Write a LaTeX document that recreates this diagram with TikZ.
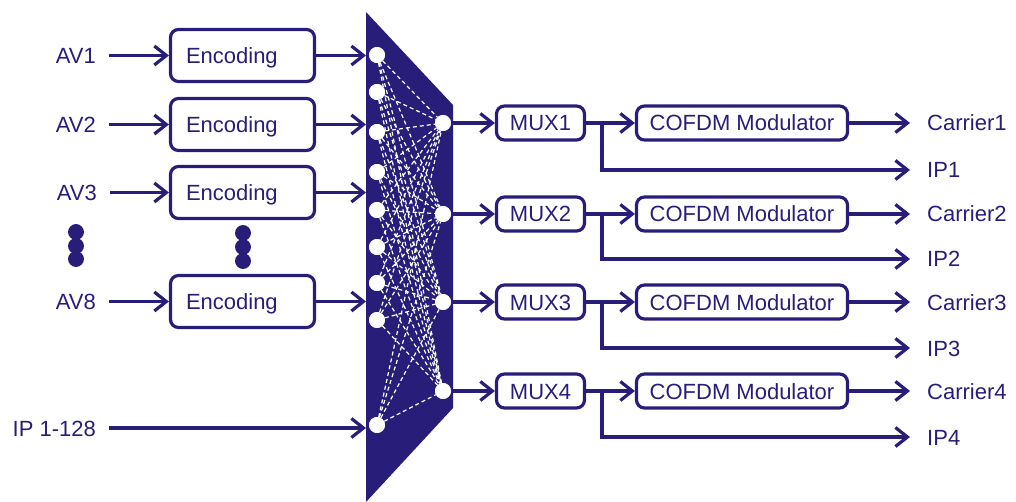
\documentclass[tikz,border=0pt]{standalone}
\usepackage{fontspec}
\setmainfont{Liberation Sans}
\usetikzlibrary{arrows.meta}
\definecolor{navy}{RGB}{40,30,122}
\begin{document}
\begin{tikzpicture}[x=1pt,y=-1pt,
  every node/.style={font=\fontsize{22}{26}\selectfont, text=navy, text height=16pt, text depth=0pt},
  lbl/.style={inner sep=0pt},
  box/.style={draw=navy, line width=3.2pt, rounded corners=8pt, fill=white},
  encbox/.style={box, minimum height=52pt, text width=113pt, inner xsep=15.5pt, align=left},
  muxbox/.style={box, minimum height=34pt, minimum width=88pt, inner sep=0pt},
  cofbox/.style={box, minimum height=34pt, minimum width=211pt, inner sep=0pt},
  arr/.style={draw=navy, line width=3.2pt, -{Straight Barb[length=12pt,width=19pt]}},
  dot/.style={circle, fill=white, inner sep=0pt, minimum size=11pt},
  vdot/.style={circle, fill=navy, inner sep=0pt, minimum size=9.5pt},
  wdash/.style={draw=white, line width=1.2pt, dash pattern=on 4pt off 3pt},
]
\useasboundingbox (0,0) rectangle (1016,502);

% switching matrix body
\coordinate (tl) at (366,12);
\coordinate (tr) at (453,105);
\coordinate (br) at (453,408);
\coordinate (bl) at (366,502);
\fill[navy] (tl) -- (tr) -- (br) -- (bl) -- cycle;

% matrix dots
\foreach \i/\y in {1/55,2/92,3/132,4/172,5/210,6/247,7/283,8/320,9/425}
  \node[dot] (L\i) at (377,\y) {};
\foreach \j/\y in {1/123,2/214,3/302,4/391}
  \node[dot] (R\j) at (443,\y) {};
\foreach \i in {1,...,9}
  \foreach \j in {1,...,4}
    \draw[wdash] (L\i) -- (R\j);
\foreach \i in {1,...,9} \node[dot] at (L\i) {};
\foreach \j in {1,...,4} \node[dot] at (R\j) {};

% inputs
\node[lbl, anchor=east] (av1) at (96,55.5) {AV1};
\node[lbl, anchor=east] (av2) at (96,124.5) {AV2};
\node[lbl, anchor=east] (av3) at (97,192.5) {AV3};
\node[lbl, anchor=east] (av8) at (96,301.5) {AV8};
\node[lbl, anchor=east] (ipin) at (96,428) {IP 1-128};

\node[encbox] (enc1) at (242.5,55.5) {Encoding};
\node[encbox] (enc2) at (242.5,124.5) {Encoding};
\node[encbox] (enc3) at (242.5,192.5) {Encoding};
\node[encbox] (enc8) at (242.5,301.5) {Encoding};

\foreach \n/\e in {av1/enc1,av2/enc2,av3/enc3,av8/enc8}
  \draw[arr, shorten <=13pt] (\n.east) -- (\e.west);
\foreach \e in {enc1,enc2,enc3,enc8}
  \draw[arr] (\e.east) -- (\e.east -| tl);
\draw[arr, shorten <=13pt] (ipin.east) -- (ipin.east -| tl);

% vertical ellipses
\node[vdot] (va) at (76,232) {};
\node[vdot] (vb) at (76,246) {};
\node[vdot] (vc) at (76,259) {};
\node[vdot] (vd) at (243,233) {};
\node[vdot] (ve) at (243,247) {};
\node[vdot] (vf) at (243,261) {};

% outputs
\foreach \j/\y/\yi in {1/123/170,2/214/259,3/302/348,4/391/437}{
  \node[muxbox] (mux\j) at (540.5,\y) {MUX\j};
  \node[cofbox] (cof\j) at (742,\y) {COFDM Modulator};
  \node[lbl, anchor=west] (car\j) at (927,\y) {Carrier\j};
  \node[lbl, anchor=west] (ip\j) at (927,\yi) {IP\j};
  \coordinate (b\j) at (602,\y);
  \draw[arr] (R\j.east) -- (mux\j.west);
  \draw[arr] (mux\j.east) -- (cof\j.west);
  \draw[arr, shorten >=17pt] (cof\j.east) -- (car\j.west);
  \draw[arr, shorten >=17pt] (b\j) |- (ip\j.west);
}
\end{tikzpicture}
\end{document}
